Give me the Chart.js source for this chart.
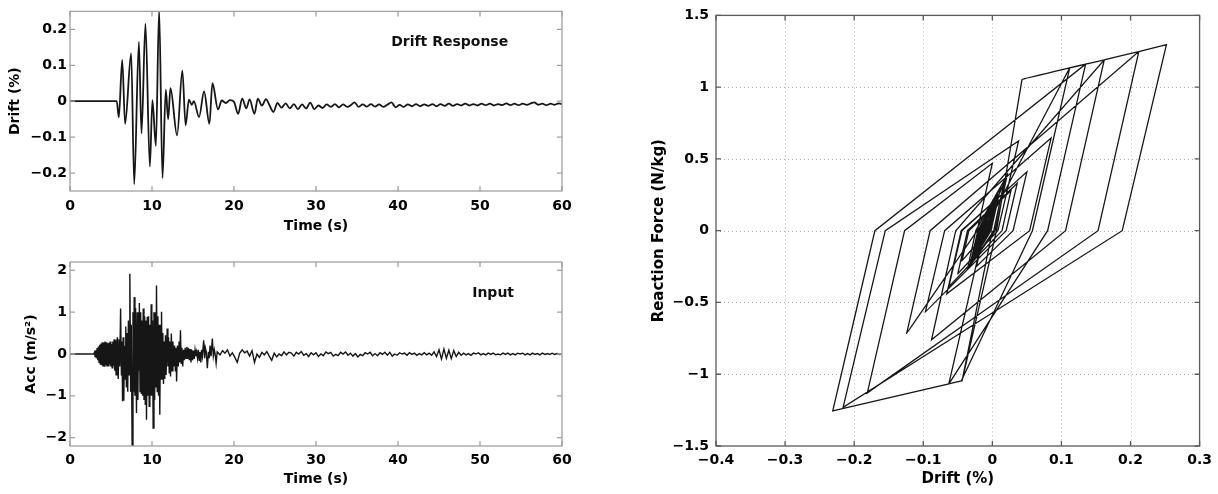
<!DOCTYPE html>
<html>
<head>
<meta charset="utf-8">
<script src="https://cdn.jsdelivr.net/npm/chart.js@4.4.1/dist/chart.umd.min.js"></script>
<style>
  body { margin: 0; background: #fff; }
  canvas { position: absolute; }
</style>
</head>
<body>
<canvas id="driftChart" width="580" height="245" style="left:0px;top:0px"></canvas>
<canvas id="accChart" width="580" height="249" style="left:0px;top:245px"></canvas>
<canvas id="loopChart" width="618" height="494" style="left:600px;top:0px"></canvas>
<script>
// Drift response (%) vs time (s)
const driftTime = [0, 5.7, 5.95, 6.37, 6.72, 7.46, 7.83, 8.4, 8.72, 9.2,
  9.74, 10.05, 10.47, 10.87, 11.28, 11.68, 11.97, 12.25, 13.06, 13.7,
  14.1, 14.5, 14.85, 15.1, 15.74, 16.35, 17.0, 17.37, 18.05, 18.5,
  19.0, 19.5, 20.0, 20.5, 21.0, 21.5, 21.9, 22.5, 22.9, 23.4,
  23.9, 24.3, 24.8,
  25.3, 25.8, 26.3, 26.8, 27.3, 27.8, 28.3, 28.8, 29.3, 29.8,
  30.3, 30.8, 31.3, 31.8, 32.3, 32.8, 33.3, 33.8, 34.3, 34.7,
  35.2, 35.7, 36.2, 36.7, 37.2, 37.7, 38.2, 38.7, 39.2, 39.7,
  40.2, 40.7, 41.2, 41.7, 42.2, 42.7, 43.2, 43.7, 44.2, 44.7,
  45.2, 45.7, 46.2, 46.7, 47.2, 47.7, 48.2, 48.7, 49.2, 49.7,
  50.2, 50.7, 51.2, 51.7, 52.2, 52.7, 53.2, 53.7, 54.2, 54.7,
  55.2, 55.7, 56.2, 56.6, 57.1, 57.6, 58.1, 58.6, 59.1, 59.6, 60];
const driftValue = [0, 0, -0.045, 0.115, -0.063, 0.133, -0.231, 0.165, -0.09, 0.216,
  -0.182, 0.003, -0.124, 0.255, -0.214, 0.032, -0.05, 0.036, -0.095, 0.085,
  -0.067, 0.004, -0.01, 0.0, -0.044, 0.027, -0.063, 0.05, -0.023, 0.002,
  -0.005, 0.003, -0.002, -0.035, 0.007, -0.02, 0.005, -0.035, 0.007, -0.012,
  0.006, -0.01, -0.03,
  -0.005, -0.018, -0.006, -0.02, -0.008, -0.022, -0.009, -0.02, -0.004, -0.022,
  -0.012, -0.019, -0.009, -0.016, -0.008, -0.017, -0.009, -0.016, -0.01, -0.003,
  -0.016, -0.009, -0.015, -0.008, -0.015, -0.009, -0.016, -0.01, -0.003, -0.017,
  -0.01, -0.016, -0.009, -0.014, -0.008, -0.014, -0.009, -0.013, -0.008, -0.014,
  -0.008, -0.013, -0.007, -0.013, -0.008, -0.012, -0.007, -0.012, -0.008, -0.012,
  -0.007, -0.011, -0.007, -0.012, -0.008, -0.011, -0.006, -0.011, -0.007, -0.011,
  -0.007, -0.01, -0.006, -0.003, -0.01, -0.007, -0.011, -0.007, -0.01, -0.006, -0.008];

// Input acceleration (m/s^2) vs time (s)
const accTime = [0, 2.9,
  2.98, 3.06, 3.14, 3.22, 3.30, 3.38, 3.46, 3.54, 3.62, 3.70,
  3.78, 3.86, 3.94, 4.02, 4.10, 4.18, 4.26, 4.34, 4.42, 4.50,
  4.58, 4.66, 4.74, 4.82, 4.90, 4.98, 5.06, 5.14, 5.22, 5.30,
  5.38, 5.46, 5.54, 5.62, 5.70,
  5.78, 5.88, 5.98, 6.07, 6.17, 6.27, 6.34, 6.41, 6.48, 6.56,
  6.64, 6.72, 6.8, 6.88, 6.96, 7.04, 7.12, 7.2, 7.3, 7.4,
  7.47, 7.58, 7.68, 7.75, 7.83, 7.92, 8.0, 8.11, 8.2, 8.28,
  8.36, 8.4, 8.46, 8.54, 8.62, 8.7, 8.78, 8.86, 8.93, 9.02,
  9.1, 9.18, 9.26, 9.33, 9.42, 9.5, 9.58, 9.66, 9.74, 9.82,
  9.9, 9.98, 10.06, 10.14, 10.24, 10.32, 10.4, 10.48, 10.55, 10.64,
  10.72, 10.8, 10.88, 10.95, 11.04, 11.1, 11.16, 11.25, 11.32, 11.4,
  11.48, 11.56, 11.64, 11.72, 11.85, 11.94, 12.02, 12.1, 12.18, 12.26,
  12.36, 12.45, 12.55, 12.65, 12.75, 12.85, 12.92, 13.0, 13.1, 13.2,
  13.3, 13.38, 13.47, 13.56, 13.65, 13.75, 13.85, 13.95, 14.05, 14.15,
  14.25, 14.35, 14.45, 14.55, 14.65, 14.75, 14.85, 14.95, 15.05, 15.15,
  15.25, 15.35, 15.45, 15.55, 15.65, 15.75, 15.85, 15.95, 16.05, 16.15,
  16.3, 16.42, 16.5, 16.62, 16.75, 16.88, 16.98, 17.08, 17.2, 17.36,
  17.48, 17.6, 17.7, 17.82, 17.95,
  18.0, 18.3, 18.6, 18.9, 19.2, 19.5, 19.8, 20.1, 20.4, 20.7,
  21.0, 21.3, 21.6, 21.9, 22.2, 22.5, 22.8, 23.1, 23.4, 23.7,
  24.0, 24.3, 24.6, 24.9, 25.2, 25.5, 25.8, 26.1, 26.4, 26.7,
  27.0, 27.3, 27.6, 27.9, 28.2, 28.5, 28.8, 29.1, 29.4, 29.7,
  30.0, 30.3, 30.6, 30.9, 31.2, 31.5, 31.8, 32.1, 32.4, 32.7,
  33.0, 33.3, 33.6, 33.9, 34.2, 34.5, 34.8, 35.1, 35.4, 35.7,
  36.0, 36.3, 36.6, 36.9, 37.2, 37.5, 37.8, 38.1, 38.4, 38.7,
  39.0, 39.3, 39.6, 39.9, 40.2, 40.5, 40.8, 41.1, 41.4, 41.7,
  42.0, 42.3, 42.6, 42.9, 43.2, 43.5, 43.8, 44.1, 44.4, 44.7,
  45.0, 45.3, 45.6, 45.9, 46.2, 46.5, 46.8, 47.1, 47.4, 47.7,
  48.0, 48.3, 48.6, 48.9, 49.2, 49.5, 49.8, 50.1, 50.4, 50.7,
  51.0, 51.3, 51.6, 51.9, 52.2, 52.5, 52.8, 53.1, 53.4, 53.7,
  54.0, 54.3, 54.6, 54.9, 55.2, 55.5, 55.8, 56.1, 56.4, 56.7,
  57.0, 57.3, 57.6, 57.9, 58.2, 58.5, 58.8, 59.1, 59.4, 59.7, 60.0];
const accValue = [0, 0,
  0.04, -0.06, 0.09, -0.1, 0.14, -0.15, 0.18, -0.2, 0.22, -0.24,
  0.25, -0.27, 0.28, -0.3, 0.27, -0.29, 0.3, -0.26, 0.28, -0.3,
  0.25, -0.28, 0.27, -0.25, 0.3, -0.3, 0.24, -0.33, 0.3, -0.28,
  0.35, -0.4, 0.33, -0.5, 0.3,
  0.4, -0.6, 0.35, -0.3, 1.09, -0.5, 0.3, -1.13, 0.4, -1.12,
  0.2, -0.6, 0.66, -0.8, 0.5, -0.9, 0.8, -0.5, 1.92, -0.9,
  0.7, -2.25, 1.0, -0.9, 1.36, -1.0, 1.1, -1.41, 1.0, -1.1,
  0.9, -0.4, 1.22, -0.9, 1.0, -0.94, 0.8, -1.0, 1.09, -1.1,
  0.9, -1.2, 0.8, -1.57, 0.89, -1.0, 0.9, -1.25, 0.7, -1.0,
  1.19, -1.0, 0.8, -1.77, 1.0, -1.1, 1.0, -0.8, 1.64, -0.9,
  0.9, -1.0, 0.7, -1.45, 0.7, -0.6, 1.01, -0.6, 0.5, -0.72,
  0.3, -0.6, 0.45, -0.5, 0.61, -0.3, 0.4, -0.45, 0.3, -0.54,
  0.49, -0.4, 0.3, -0.3, 0.2, -0.4, 0.15, -0.66, 0.2, -0.3,
  0.3, -0.2, 0.57, -0.22, 0.15, -0.3, 0.1, -0.15, 0.15, -0.1,
  0.17, -0.12, 0.15, -0.15, 0.12, -0.2, 0.1, -0.15, 0.08, -0.12,
  0.1, -0.05, 0.05, -0.1, 0.1, -0.15, 0.05, -0.2, 0.1, -0.05,
  0.33, -0.1, 0.15, 0.05, -0.34, 0.05, -0.1, 0.2, -0.05, 0.37,
  -0.05, 0.1, 0.0, -0.22, 0.05,
  0.05, -0.02, 0.08, 0.02, 0.1, -0.05, 0.03, -0.08, -0.2, 0.02,
  0.1, 0.03, 0.07, -0.05, 0.08, -0.2, 0.0, -0.08, 0.04, -0.02,
  0.06, -0.05, -0.15, 0.02, -0.07, 0.0, -0.04, 0.05, -0.02, 0.04,
  0.02, -0.05, 0.04, 0.0, 0.06, -0.03, 0.01, -0.06, 0.03, -0.02,
  0.03, -0.06, 0.0, -0.04, 0.05, 0.01, 0.04, -0.05, -0.01, -0.04,
  0.04, 0.0, 0.05, -0.03, 0.02, -0.05, 0.01, -0.07, -0.01, -0.04,
  0.03, 0.0, 0.04, -0.04, 0.01, -0.04, 0.03, -0.01, 0.04, -0.03,
  0.04, -0.05, 0.0, -0.03, 0.03, 0.0, 0.02, -0.03, 0.03, -0.01,
  0.02, -0.03, 0.01, -0.02, 0.03, -0.02, 0.02, -0.03, 0.05, -0.06,
  0.1, -0.12, 0.12, -0.1, 0.09, -0.11, 0.08, -0.06, 0.04, -0.03,
  0.02, -0.02, 0.01, -0.03, 0.02, 0.0, 0.03, -0.02, 0.01, -0.02,
  0.02, -0.01, 0.02, -0.02, 0.0, -0.02, 0.02, -0.01, 0.02, -0.02,
  0.01, -0.02, 0.02, 0.0, 0.02, -0.02, 0.01, -0.02, 0.02, -0.01,
  0.01, -0.02, 0.02, -0.01, 0.01, -0.01, 0.02, -0.01, 0.01, -0.01, 0];

// Hysteresis loop: drift (%) and reaction force (N/kg), in time order
const loopDrift = [0, -0.044, 0.006, 0.043, 0.112, 0.058, -0.045, -0.063, -0.012, 0.112,
  0.135, 0.080, -0.063, -0.231, -0.170, 0.135, 0.162, 0.106, -0.088, -0.053,
  0.162, 0.212, 0.153, -0.181, -0.127, 0.0, -0.022, -0.124, -0.09, 0.212,
  0.252, 0.188, -0.216, -0.155, 0.038, 0.008, -0.05, -0.036, 0.036, 0.02,
  -0.097, -0.069, 0.085, 0.054, -0.066, -0.045, 0.004, -0.006, -0.044, -0.034,
  0.027, 0.014, -0.063, -0.044, 0.05, 0.03, -0.023, -0.011,
  0.022, 0.004, -0.036, -0.024, 0.018, 0.002, -0.033, -0.021,
  0.012, -0.002, -0.03, -0.02, 0.008, -0.004, -0.028, -0.018, 0.004, -0.006,
  -0.025, -0.017, 0.002, -0.007, -0.026, -0.016, 0.0, -0.008, -0.022, -0.015,
  -0.002, -0.009, -0.02, -0.014, -0.004, -0.01, -0.018, -0.013, -0.006, -0.01,
  -0.016, -0.012, -0.008, -0.011];
const loopForce = [0, -1.05, 0, 1.055, 1.135, 0, -1.047, -1.067, 0, 1.135,
  1.16, 0, -1.067, -1.255, 0, 1.16, 1.19, 0, -0.76, 0,
  1.19, 1.248, 0, -1.13, 0, 0.47, 0, -0.716, 0, 1.248,
  1.296, 0, -1.23, 0, 0.626, 0, -0.3, 0, 0.33, 0,
  -0.567, 0, 0.645, 0, -0.44, 0, 0.21, 0, -0.21, 0,
  0.28, 0, -0.39, 0, 0.41, 0, -0.25, 0,
  0.4, 0, -0.27, 0, 0.36, 0, -0.25, 0,
  0.3, 0, -0.22, 0, 0.25, 0, -0.2, 0, 0.2, 0,
  -0.16, 0, 0.17, 0, -0.18, 0, 0.14, 0, -0.12, 0,
  0.1, 0, -0.09, 0, 0.07, 0, -0.06, 0, 0.05, 0,
  -0.04, 0, 0.02, 0];

// tick positions
const timeTicks = [0, 10, 20, 30, 40, 50, 60];
const driftTicks = [-0.2, -0.1, 0, 0.1, 0.2];
const accTicks = [-2, -1, 0, 1, 2];
const loopDriftTicks = [-0.4, -0.3, -0.2, -0.1, 0, 0.1, 0.2, 0.3];
const loopForceTicks = [-1.5, -1, -0.5, 0, 0.5, 1, 1.5];

const FONT = { family: 'DejaVu Sans', size: 14, weight: 'bold' };
const BIG_FONT = { family: 'DejaVu Sans', size: 15, weight: 'bold' };
const LINE = '#161616';

function makePoints(xs, ys) {
    const n = Math.min(xs.length, ys.length);
    const pts = [];
    for (let i = 0; i < n; i++) pts.push({ x: xs[i], y: ys[i] });
    return pts;
}

function fmtTick(v) {
    if (v === 0) return '0';
    return String(v).replace('-', '\u2212');
}

// box around the plot, inward tick marks, dotted grid and text labels
const framePlugin = {
    id: 'frame',
    beforeDatasetsDraw(chart, args, opts) {
        if (!opts.dotGrid) return;
        const { ctx, chartArea: a, scales } = chart;
        ctx.save();
        ctx.strokeStyle = '#b0b0b0';
        ctx.lineWidth = 1;
        ctx.setLineDash([1, 3]);
        scales.x.ticks.forEach(t => {
            const px = Math.round(scales.x.getPixelForValue(t.value)) + 0.5;
            if (px <= a.left + 2 || px >= a.right - 2) return;
            ctx.beginPath(); ctx.moveTo(px, a.top); ctx.lineTo(px, a.bottom); ctx.stroke();
        });
        scales.y.ticks.forEach(t => {
            const py = Math.round(scales.y.getPixelForValue(t.value)) + 0.5;
            if (py <= a.top + 2 || py >= a.bottom - 2) return;
            ctx.beginPath(); ctx.moveTo(a.left, py); ctx.lineTo(a.right, py); ctx.stroke();
        });
        ctx.restore();
    },
    afterDatasetsDraw(chart, args, opts) {
        const { ctx, chartArea: a, scales } = chart;
        const len = 5;
        ctx.save();
        ctx.strokeStyle = opts.color;
        ctx.lineWidth = 1.3;
        ctx.strokeRect(a.left, a.top, a.right - a.left, a.bottom - a.top);
        ctx.beginPath();
        scales.x.ticks.forEach(t => {
            const px = scales.x.getPixelForValue(t.value);
            ctx.moveTo(px, a.bottom); ctx.lineTo(px, a.bottom - len);
            ctx.moveTo(px, a.top); ctx.lineTo(px, a.top + len);
        });
        scales.y.ticks.forEach(t => {
            const py = scales.y.getPixelForValue(t.value);
            ctx.moveTo(a.left, py); ctx.lineTo(a.left + len, py);
            ctx.moveTo(a.right, py); ctx.lineTo(a.right - len, py);
        });
        ctx.stroke();
        if (opts.label) {
            ctx.fillStyle = '#111';
            ctx.font = 'bold 14px "DejaVu Sans"';
            ctx.textAlign = 'center';
            ctx.textBaseline = 'middle';
            ctx.fillText(opts.label.text,
                scales.x.getPixelForValue(opts.label.x),
                scales.y.getPixelForValue(opts.label.y));
        }
        ctx.restore();
    }
};

function axis(min, max, ticks, title, cfg) {
    return {
        type: 'linear',
        min: min,
        max: max,
        grid: { display: false, drawTicks: false },
        border: { display: false },
        afterBuildTicks: s => { s.ticks = ticks.map(v => ({ value: v })); },
        afterFit: s => {
            if (cfg.width) s.width = cfg.width;
            if (cfg.height) s.height = cfg.height;
        },
        ticks: {
            autoSkip: false, maxRotation: 0, color: '#000', font: FONT,
            padding: cfg.pad, callback: fmtTick
        },
        title: {
            display: true, text: title, color: '#000', font: cfg.titleFont || FONT,
            padding: cfg.titlePad
        }
    };
}

function options(padding, frame, xAxis, yAxis) {
    return {
        responsive: false,
        animation: false,
        devicePixelRatio: 1,
        events: [],
        layout: { padding: padding },
        plugins: { legend: { display: false }, tooltip: { enabled: false }, frame: frame },
        scales: { x: xAxis, y: yAxis }
    };
}

new Chart(document.getElementById('driftChart'), {
    type: 'line',
    data: { datasets: [{
        data: makePoints(driftTime, driftValue),
        borderColor: LINE, borderWidth: 1.8, pointRadius: 0,
        cubicInterpolationMode: 'monotone', clip: 0
    }] },
    options: options(
        { top: 9, right: 18, bottom: 0, left: 0 },
        { color: '#a0a0a0', label: { text: 'Drift Response', x: 46.3, y: 0.165 } },
        axis(0, 60, timeTicks, 'Time (s)', { height: 54, pad: 7, titlePad: { top: 0, bottom: 10 } }),
        axis(-0.25, 0.25, driftTicks, 'Drift (%)', { width: 70, pad: 3, titlePad: { top: 7, bottom: 0 } })
    ),
    plugins: [framePlugin]
});

new Chart(document.getElementById('accChart'), {
    type: 'line',
    data: { datasets: [{
        data: makePoints(accTime, accValue),
        borderColor: LINE, borderWidth: 1.4, pointRadius: 0, clip: 0
    }] },
    options: options(
        { top: 17, right: 18, bottom: 0, left: 0 },
        { color: '#a0a0a0', label: { text: 'Input', x: 51.6, y: 1.45 } },
        axis(0, 60, timeTicks, 'Time (s)', { height: 48, pad: 6, titlePad: { top: 0, bottom: 6 } }),
        axis(-2.2, 2.2, accTicks, 'Acc (m/s\u00B2)', { width: 70, pad: 3, titlePad: { top: 23, bottom: 0 } })
    ),
    plugins: [framePlugin]
});

new Chart(document.getElementById('loopChart'), {
    type: 'line',
    data: { datasets: [{
        data: makePoints(loopDrift, loopForce),
        borderColor: LINE, borderWidth: 1.3, pointRadius: 0, tension: 0.0001, clip: 0
    }] },
    options: options(
        { top: 8, right: 12, bottom: 0, left: 0 },
        { color: '#5a5a5a', dotGrid: true },
        axis(-0.4, 0.3, loopDriftTicks, 'Drift (%)', { height: 48, pad: 6, titleFont: BIG_FONT, titlePad: { top: 0, bottom: 6 } }),
        axis(-1.5, 1.5, loopForceTicks, 'Reaction Force (N/kg)', { width: 116, pad: 7, titleFont: BIG_FONT, titlePad: { top: 50, bottom: 0 } })
    ),
    plugins: [framePlugin]
});
</script>
</body>
</html>
